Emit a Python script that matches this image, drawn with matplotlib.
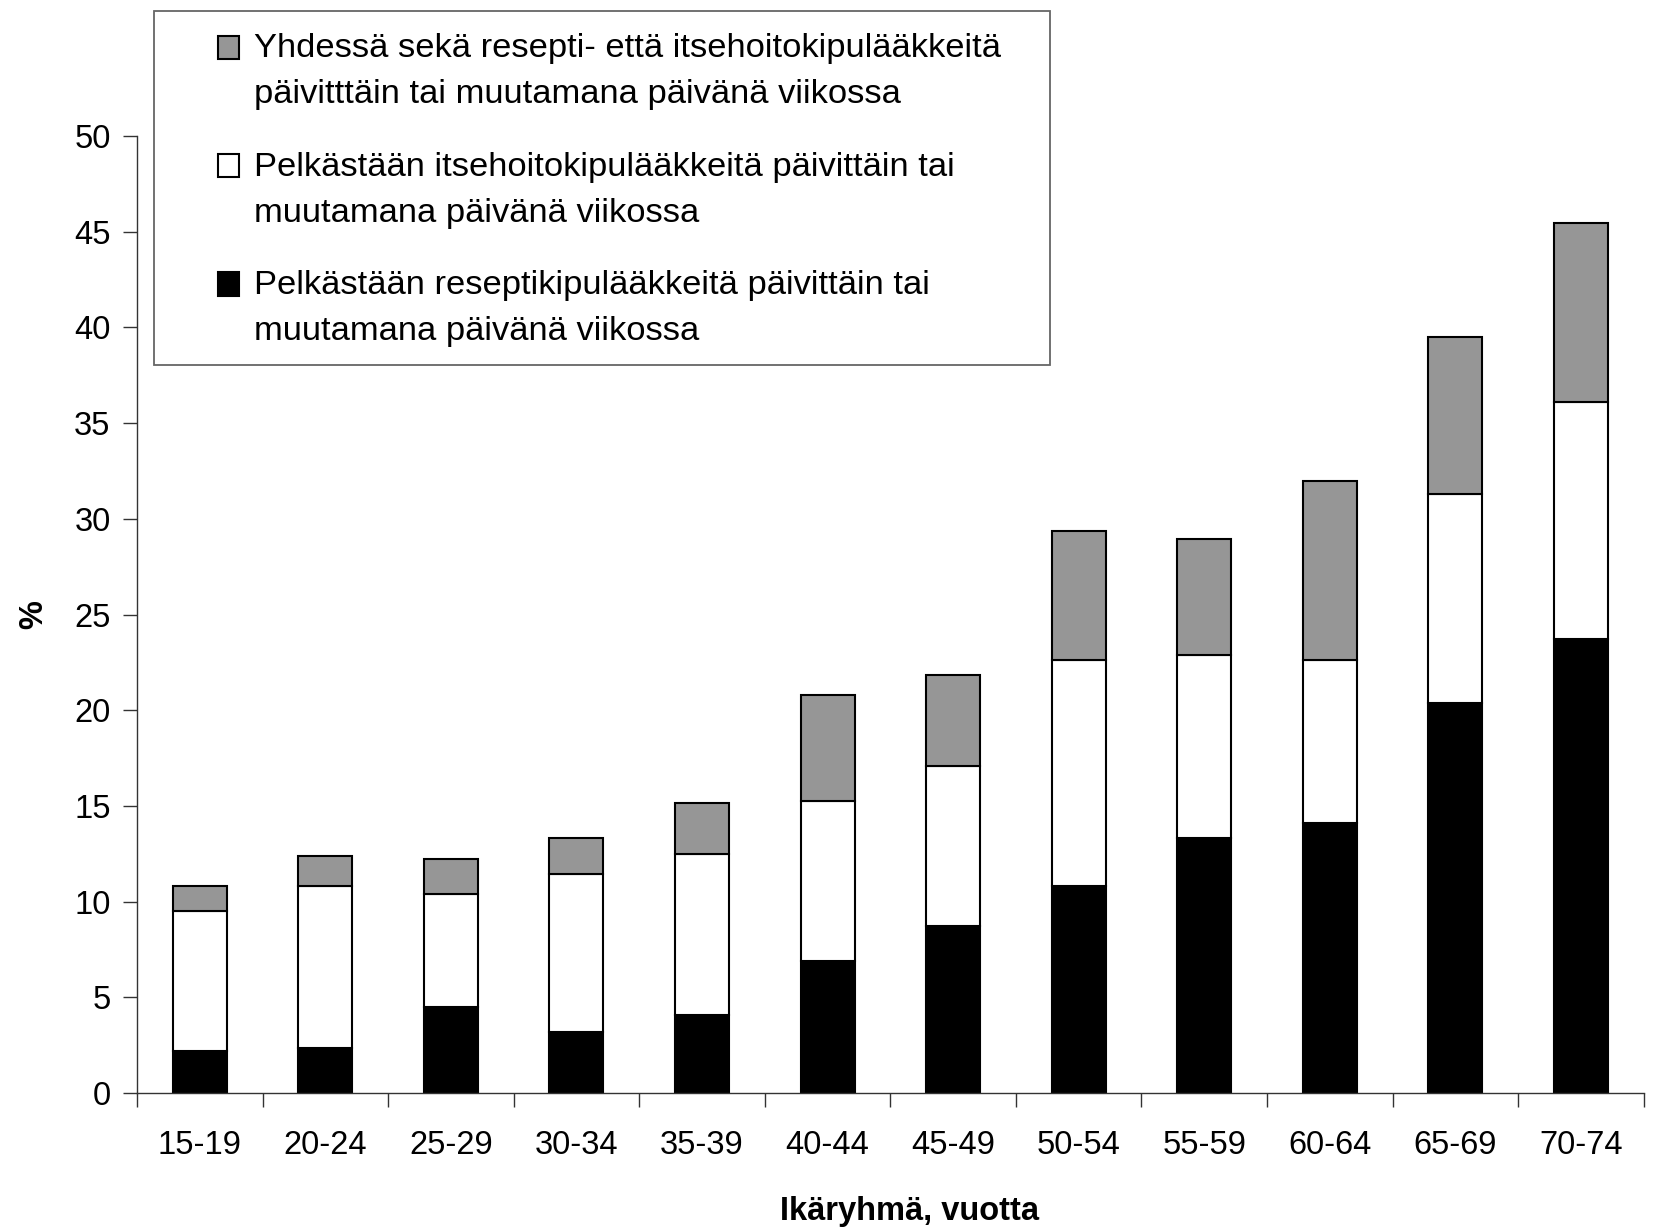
import numpy as np
import matplotlib
matplotlib.use("Agg")
import matplotlib.pyplot as plt
from matplotlib.patches import Rectangle
from matplotlib.container import BarContainer
from matplotlib.legend_handler import HandlerPatch, update_from_first_child

plt.rcParams['font.family'] = ['Liberation Sans', 'DejaVu Sans']

# ikäryhmät ja osuudet (%)
ages = ['15-19', '20-24', '25-29', '30-34', '35-39', '40-44',
        '45-49', '50-54', '55-59', '60-64', '65-69', '70-74']
resepti = [2.2, 2.35, 4.5, 3.2, 4.1, 6.9, 8.7, 10.8, 13.3, 14.1, 20.4, 23.7]
itsehoito = [7.3, 8.45, 5.9, 8.25, 8.4, 8.35, 8.4, 11.8, 9.6, 8.5, 10.9, 12.4]
yhdessa = [1.3, 1.6, 1.85, 1.85, 2.65, 5.55, 4.75, 6.75, 6.05, 9.4, 8.2, 9.35]

labels = ['Yhdessä sekä resepti- että itsehoitokipulääkkeitä\npäivitttäin tai muutamana päivänä viikossa',
          'Pelkästään itsehoitokipulääkkeitä päivittäin tai\nmuutamana päivänä viikossa',
          'Pelkästään reseptikipulääkkeitä päivittäin tai\nmuutamana päivänä viikossa']

fig = plt.figure(figsize=(16.62, 12.3), dpi=100)
ax = fig.add_axes([0.0824, 0.1114, 0.9066, 0.778])

x = np.arange(len(ages))
w = 0.43
lw = 1.5
b1 = ax.bar(x, resepti, w, color='black', edgecolor='black', linewidth=lw)
b2 = ax.bar(x, itsehoito, w, bottom=resepti, color='white', edgecolor='black', linewidth=lw)
bot3 = np.array(resepti) + np.array(itsehoito)
b3 = ax.bar(x, yhdessa, w, bottom=bot3, color='#969696', edgecolor='black', linewidth=lw)

ax.set_xlim(-0.5, len(ages) - 0.5)
ax.set_ylim(0, 50)
ax.set_yticks(range(0, 51, 5))
ax.set_xticks(x)
ax.set_xticklabels(ages)
ax.set_xticks(np.arange(-0.5, len(ages), 1), minor=True)
ax.tick_params(axis='x', which='major', length=0, labelsize=23.5, pad=27)
ax.tick_params(axis='x', which='minor', length=10, width=1, color='#333333')
ax.tick_params(axis='y', length=10, width=1, labelsize=23.5, pad=9, color='#333333')

for s in ['top', 'right']:
    ax.spines[s].set_visible(False)
for s in ['left', 'bottom']:
    ax.spines[s].set_color('#333333')
    ax.spines[s].set_linewidth(1)

ax.set_xlabel('Ikäryhmä, vuotta', fontsize=23.5, fontweight='bold')
ax.xaxis.set_label_coords(0.513, -0.108)
ax.set_ylabel('%', fontsize=23.5, fontweight='bold')
ax.yaxis.set_label_coords(-0.058, 0.5)


# legendan neliö ensimmäisen rivin kohdalle
def top_square(legend, orig_handle, xdescent, ydescent, width, height, fontsize):
    sq = 0.68 * fontsize
    return Rectangle((-xdescent, -ydescent + height - sq + 0.25 * fontsize), width, sq)


fsz = 24.8
leg = fig.legend([b3, b2, b1], labels, loc='upper left',
                 bbox_to_anchor=(218 / 1662, 0.973), fontsize=fsz,
                 frameon=False, handlelength=0.62, handleheight=2.2,
                 handletextpad=0.42, labelspacing=1.2, borderpad=0,
                 borderaxespad=0,
                 handler_map={BarContainer: HandlerPatch(patch_func=top_square,
                                                         update_func=update_from_first_child)})
for t in leg.get_texts():
    t.set_linespacing(1.63)
for h in leg.legend_handles:
    h.set_linewidth(1.5)

# legendan kehys
fig.patches.append(Rectangle((154 / 1662, 1 - 365 / 1230), 896 / 1662, 354 / 1230,
                             transform=fig.transFigure, facecolor='none',
                             edgecolor='#666666', linewidth=1.3))

fig.savefig('out.png', dpi=100)
